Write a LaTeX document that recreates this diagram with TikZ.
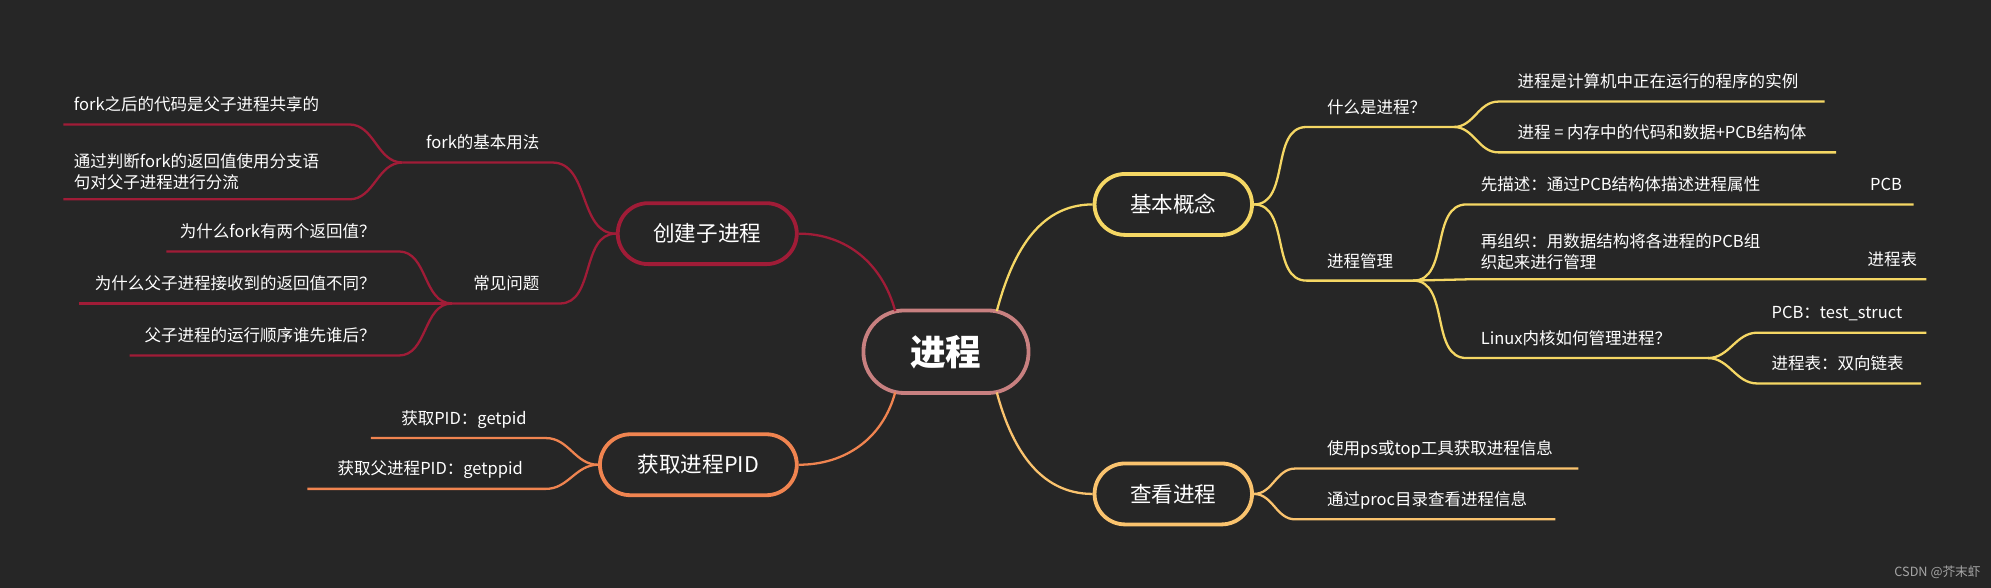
\documentclass[tikz,border=0pt]{standalone}
\usepackage{fontspec}
\setmainfont{Noto Sans CJK SC}
\usetikzlibrary{calc}
\definecolor{bgcol}{RGB}{38,38,38}
\definecolor{rootcol}{RGB}{200,128,128}
\definecolor{yelcol}{RGB}{245,215,100}
\definecolor{orgcol}{RGB}{250,195,110}
\definecolor{redcol}{RGB}{160,28,55}
\definecolor{pidcol}{RGB}{240,132,80}
\tikzset{
  topic/.style={draw=#1, line width=3pt, rounded corners=24pt, fill=bgcol, text=white,
    minimum height=48pt, font=\fontsize{17}{20}\selectfont, inner xsep=12pt},
  leaf/.style={text=white, inner sep=0pt, font=\fontsize{13}{17}\selectfont},
  branch/.style={draw=#1, line width=1.8pt}
}
\begin{document}
\begin{tikzpicture}[x=1pt,y=-1pt]
  \fill[bgcol] (0,0) rectangle (1568,463);
  \useasboundingbox (0,0) rectangle (1568,463);

  % Root
  \node[topic=rootcol, minimum width=130pt, minimum height=65pt, rounded corners=32pt,
        font=\fontsize{28}{32}\selectfont\bfseries] (root) at (745,277) {进程};
  \coordinate (rNE) at (785,245);
  \coordinate (rSE) at (785,309);
  \coordinate (rNW) at (705,245);
  \coordinate (rSW) at (705,309);

  % Main topics
  \node[topic=yelcol, minimum width=124pt] (basic) at (924,161) {基本概念};
  \node[topic=orgcol, minimum width=124pt] (view) at (924,389) {查看进程};
  \node[topic=redcol, minimum width=141pt] (fork) at (557,184) {创建子进程};
  \node[topic=pidcol, minimum width=155pt] (pid) at (550,366) {获取进程PID};

  \draw[branch=yelcol] (rNE) to[out=75,in=180] (basic.west);
  \draw[branch=orgcol] (rSE) to[out=-75,in=180] (view.west);
  \draw[branch=redcol] (rNW) to[out=105,in=0] (fork.east);
  \draw[branch=pidcol] (rSW) to[out=-105,in=0] (pid.east);

  % 基本概念
  \coordinate (whatL) at (1029,100); \coordinate (whatR) at (1145,100);
  \coordinate (mgmtL) at (1029,221); \coordinate (mgmtR) at (1113,221);
  \draw[branch=yelcol] (basic.east) to[out=0,in=180] (whatL) -- (whatR);
  \draw[branch=yelcol] (basic.east) to[out=0,in=180] (mgmtL) -- (mgmtR);
  \node[leaf, anchor=base west] (what) at (1045,89) {什么是进程？};
  \node[leaf, anchor=base west] (mgmt) at (1045,211) {进程管理};

  \coordinate (def1L) at (1180,80); \coordinate (def1R) at (1437,80);
  \coordinate (def2L) at (1180,120); \coordinate (def2R) at (1446,120);
  \draw[branch=yelcol] (whatR) to[out=0,in=180] (def1L) -- (def1R);
  \draw[branch=yelcol] (whatR) to[out=0,in=180] (def2L) -- (def2R);
  \node[leaf, anchor=base west] (def1) at (1195,69) {进程是计算机中正在运行的程序的实例};
  \node[leaf, anchor=base west] (def2) at (1195,109) {进程 = 内存中的代码和数据+PCB结构体};

  \coordinate (descL) at (1155,161); \coordinate (descR) at (1507,161);
  \coordinate (orgL) at (1155,220); \coordinate (orgR) at (1517,220);
  \coordinate (linL) at (1155,282); \coordinate (linR) at (1345,282);
  \draw[branch=yelcol] (mgmtR) to[out=0,in=180] (descL) -- (descR);
  \draw[branch=yelcol] (mgmtR) -- (orgL) -- (orgR);
  \draw[branch=yelcol] (mgmtR) to[out=0,in=180] (linL) -- (linR);
  \node[leaf, anchor=base west] (desc) at (1166,150) {先描述：通过PCB结构体描述进程属性};
  \node[leaf, anchor=base east] (pcbtag) at (1498,150) {PCB};
  \node[leaf, anchor=south west, align=left] (org) at (1166,213)
    {再组织：用数据结构将各进程的PCB组\\织起来进行管理};
  \node[leaf, anchor=base east] (tabtag) at (1510,209) {进程表};
  \node[leaf, anchor=base west] (lin) at (1166,271) {Linux内核如何管理进程？};

  \coordinate (ts1L) at (1384,262); \coordinate (ts1R) at (1517,262);
  \coordinate (ts2L) at (1384,302); \coordinate (ts2R) at (1513,302);
  \draw[branch=yelcol] (linR) to[out=0,in=180] (ts1L) -- (ts1R);
  \draw[branch=yelcol] (linR) to[out=0,in=180] (ts2L) -- (ts2R);
  \node[leaf, anchor=base west] (ts1) at (1395,251) {PCB：test\_struct};
  \node[leaf, anchor=base west] (ts2) at (1395,291) {进程表：双向链表};

  % 查看进程
  \coordinate (ps1L) at (1020,369); \coordinate (ps1R) at (1243,369);
  \coordinate (ps2L) at (1020,409); \coordinate (ps2R) at (1225,409);
  \draw[branch=orgcol] (view.east) to[out=0,in=180] (ps1L) -- (ps1R);
  \draw[branch=orgcol] (view.east) to[out=0,in=180] (ps2L) -- (ps2R);
  \node[leaf, anchor=base west] (ps1) at (1045,358) {使用ps或top工具获取进程信息};
  \node[leaf, anchor=base west] (ps2) at (1045,398) {通过proc目录查看进程信息};

  % 创建子进程
  \coordinate (useR) at (435,128); \coordinate (useL) at (317,128);
  \coordinate (faqR) at (441,239); \coordinate (faqL) at (356,239);
  \draw[branch=redcol] (fork.west) to[out=180,in=0] (useR) -- (useL);
  \draw[branch=redcol] (fork.west) to[out=180,in=0] (faqR) -- (faqL);
  \node[leaf, anchor=base east] (use) at (425,117) {fork的基本用法};
  \node[leaf, anchor=base east] (faq) at (425,228) {常见问题};

  \coordinate (u1R) at (275,98); \coordinate (u1L) at (50,98);
  \coordinate (u2R) at (275,157); \coordinate (u2L) at (50,157);
  \draw[branch=redcol] (useL) to[out=180,in=0] (u1R) -- (u1L);
  \draw[branch=redcol] (useL) to[out=180,in=0] (u2R) -- (u2L);
  \node[leaf, anchor=base west] (u1) at (58,87) {fork之后的代码是父子进程共享的};
  \node[leaf, anchor=south west, align=left] (u2) at (58,150)
    {通过判断fork的返回值使用分支语\\句对父子进程进行分流};

  \coordinate (q1R) at (314,198); \coordinate (q1L) at (131,198);
  \coordinate (q2L) at (62,239);
  \coordinate (q3R) at (314,280); \coordinate (q3L) at (102,280);
  \draw[branch=redcol] (faqL) to[out=180,in=0] (q1R) -- (q1L);
  \draw[branch=redcol] (faqL) -- (q2L);
  \draw[branch=redcol] (faqL) to[out=180,in=0] (q3R) -- (q3L);
  \node[leaf, anchor=base east] (q1) at (296,187) {为什么fork有两个返回值？};
  \node[leaf, anchor=base east] (q2) at (296,228) {为什么父子进程接收到的返回值不同？};
  \node[leaf, anchor=base east] (q3) at (296,269) {父子进程的运行顺序谁先谁后？};

  % 获取进程PID
  \coordinate (p1R) at (430,345); \coordinate (p1L) at (292,345);
  \coordinate (p2R) at (430,385); \coordinate (p2L) at (242,385);
  \draw[branch=pidcol] (pid.west) to[out=180,in=0] (p1R) -- (p1L);
  \draw[branch=pidcol] (pid.west) to[out=180,in=0] (p2R) -- (p2L);
  \node[leaf, anchor=base east] (p1) at (415,334) {获取PID：getpid};
  \node[leaf, anchor=base east] (p2) at (412,374) {获取父进程PID：getppid};

  % watermark
  \node[text=gray!70, inner sep=0pt, anchor=base east, font=\fontsize{10}{12}\selectfont]
    (mark) at (1560,454) {CSDN @芥末虾};
\end{tikzpicture}
\end{document}
